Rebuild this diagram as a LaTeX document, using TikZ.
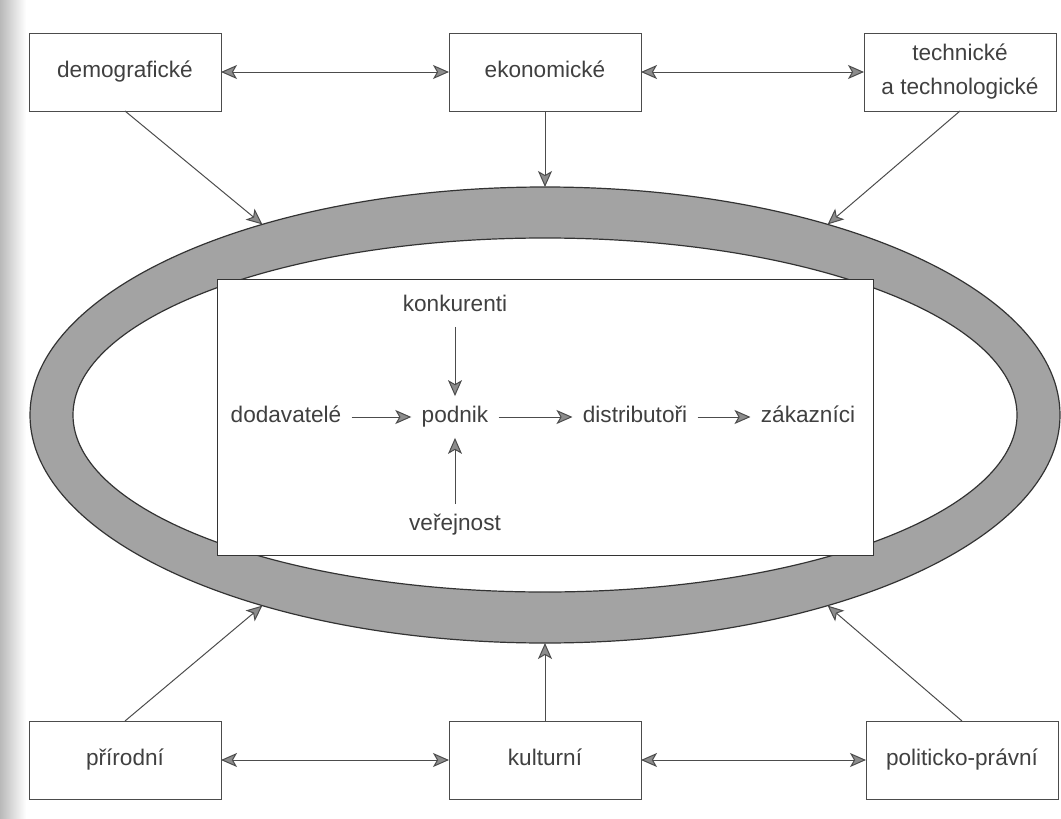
\documentclass[tikz,border=0pt]{standalone}
\usepackage{fontspec}
\setmainfont{Liberation Sans}
\usetikzlibrary{arrows.meta, shapes.geometric}

\begin{document}
\begin{tikzpicture}[x=0.5pt, y=-0.5pt,
  every node/.style={font=\fontsize{11.3}{17}\selectfont, text=black!75},
  >={Stealth[length=8pt, width=7pt, inset=2pt, fill=black!45]},
  faktor/.style={draw=black!70, line width=0.5pt, fill=white, minimum width=96pt,
    minimum height=39pt, inner sep=2pt, outer sep=0pt, align=center},
  radek/.style={text height=8pt, text depth=2.5pt},
  aktor/.style={inner sep=5pt, text height=8pt, text depth=2.5pt},
  sipka/.style={draw=black!70, line width=0.5pt, ->},
  obousipka/.style={draw=black!70, line width=0.5pt, <->}]
  \useasboundingbox (0,0) rectangle (1061,819);

  % okraj skenu
  \shade[left color=gray!55, right color=white] (0,0) rectangle (26,819);

  % elipsa
  \node[ellipse, draw=black!80, line width=0.6pt, fill=gray!72, minimum width=515pt,
    minimum height=228pt, inner sep=0pt, outer sep=0pt] (okoli) at (545,415) {};
  \node[ellipse, draw=black!80, line width=0.6pt, fill=white, minimum width=472pt,
    minimum height=177pt, inner sep=0pt, outer sep=0pt] (vnitrek) at (545,415) {};

  % mikroprostredi
  \node[draw=black!80, line width=0.5pt, fill=white, minimum width=328pt,
    minimum height=138pt, outer sep=0pt] (ramec) at (545,417) {};
  \node[aktor] (dodavatele) at (286,417) {dodavatelé};
  \node[aktor] (podnik) at (455,417) {podnik};
  \node[aktor] (distributori) at (635,417) {distributoři};
  \node[aktor] (zakaznici) at (808,417) {zákazníci};
  \node[aktor] (konkurenti) at (455,306) {konkurenti};
  \node[aktor] (verejnost) at (455,525) {veřejnost};

  \draw[sipka] (dodavatele) -- (podnik);
  \draw[sipka] (podnik) -- (distributori);
  \draw[sipka] (distributori) -- (zakaznici);
  \draw[sipka] (konkurenti) -- (podnik);
  \draw[sipka] (verejnost) -- (podnik);

  % makroprostredi
  \node[faktor, radek] (demo) at (125,72) {demografické};
  \node[faktor, radek] (eko) at (545,72) {ekonomické};
  \node[faktor] (tech) at (960,72) {technické\\a technologické};
  \node[faktor, radek] (prir) at (125,760) {přírodní};
  \node[faktor, radek] (kult) at (545,760) {kulturní};
  \node[faktor, radek] (pol) at (962,760) {politicko-právní};

  \draw[obousipka] (demo) -- (eko);
  \draw[obousipka] (eko) -- (tech);
  \draw[obousipka] (prir) -- (kult);
  \draw[obousipka] (kult) -- (pol);

  \draw[sipka] (demo.south) -- (okoli.146);
  \draw[sipka] (eko.south) -- (okoli.north);
  \draw[sipka] (tech.south) -- (okoli.34);
  \draw[sipka] (prir.north) -- (okoli.214);
  \draw[sipka] (kult.north) -- (okoli.south);
  \draw[sipka] (pol.north) -- (okoli.326);
\end{tikzpicture}
\end{document}
